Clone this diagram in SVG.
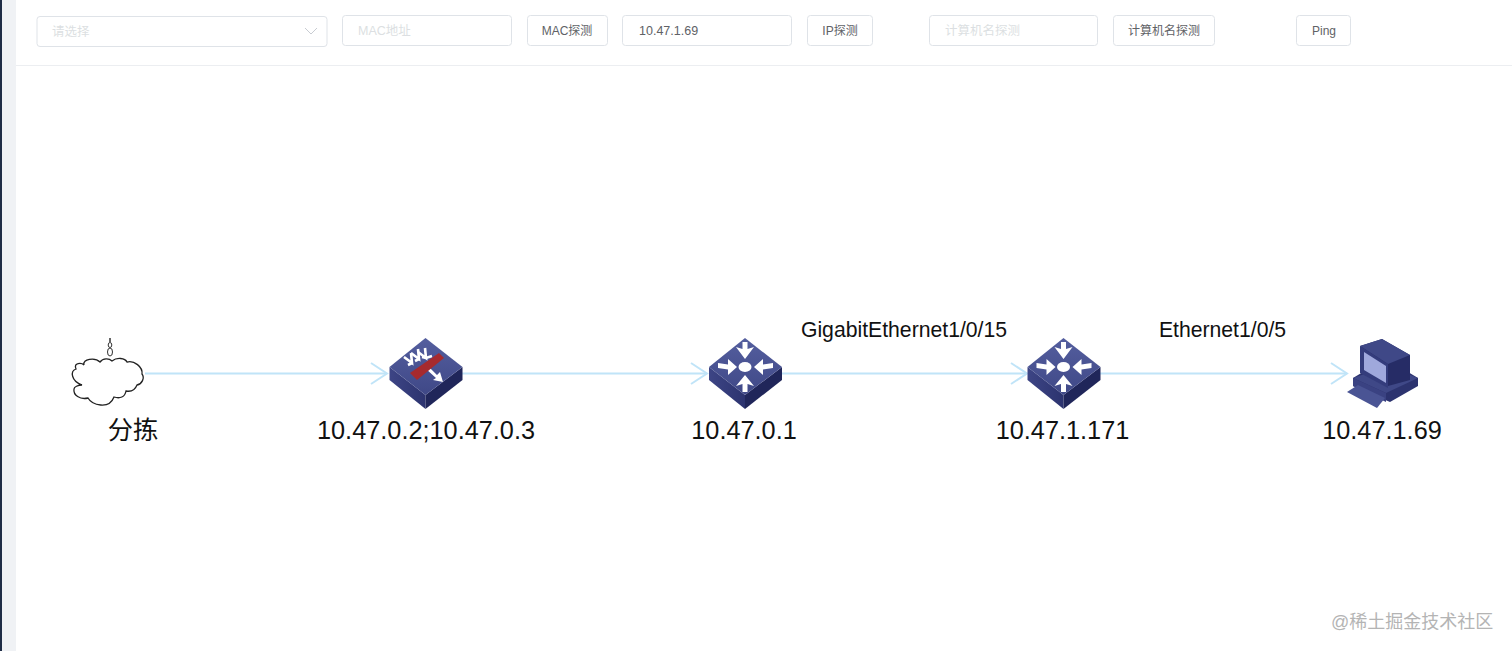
<svg xmlns="http://www.w3.org/2000/svg" width="1512" height="651" viewBox="0 0 1512 651">
<style>
text{font-family:"Liberation Sans","Noto Sans CJK SC",sans-serif}
.box{fill:#fff;stroke:#dfe3e8;stroke-width:1}
.ph{font-size:12.5px;fill:#dcdfe2}
.btn{font-size:12px;fill:#606266;text-anchor:middle}
.lbl{font-size:25.3px;fill:#111;text-anchor:middle}
.edge{font-size:21.2px;fill:#111;text-anchor:middle}
.wire{fill:none;stroke:#c0e4f8;stroke-width:2}
.w{fill:#fff}
</style>
<defs>
<marker id="a" viewBox="0 0 20 24" refX="18" refY="12" markerWidth="20" markerHeight="24" markerUnits="userSpaceOnUse" orient="auto"><path d="M2 1.500L18 12L2 22.500" fill="none" stroke="#c0e4f8" stroke-width="2"/></marker>
<linearGradient id="top" x1="0" y1="0" x2="0" y2="1"><stop offset="0" stop-color="#545e9e"/><stop offset="1" stop-color="#3f4887"/></linearGradient>
<linearGradient id="lf" x1="0" y1="0" x2="1" y2="0"><stop offset="0" stop-color="#3d4585"/><stop offset="1" stop-color="#2c336f"/></linearGradient>
<g id="base">
<path d="M-36 -6L0 22L0 36L-36 7Z" fill="url(#lf)"/>
<path d="M37 -6L0 22L0 36L37 7Z" fill="#20265a"/>
<path d="M-36 -6L0 -35L37 -6L0 22Z" fill="url(#top)"/>
</g>
<g id="switch">
<use href="#base"/>
<ellipse cx="0" cy="-6" rx="6.500" ry="5" class="w"/>
<path d="M-2.500 -31V-24L-9 -26L0 -14L9 -26L2.500 -24V-31Z" class="w"/>
<path d="M-2.500 19V11L-9 13L0 2L9 13L2.500 11V19Z" class="w"/>
<path d="M-27 -10L-17 -8.500L-17 -14L-8 -6L-17 2L-17 -3.500L-27 -5Z" class="w"/>
<path d="M28 -10L18 -8.500L18 -14L9 -6L18 2L18 -3.500L28 -5Z" class="w"/>
</g>
</defs>
<rect width="1512" height="651" fill="#fff"/>
<rect x="0" y="0" width="16" height="651" fill="#f0f2f5"/>
<rect x="0" y="0" width="2" height="651" fill="#1f2d46"/>
<path d="M16 65.500H1512" stroke="#eceef1" stroke-width="1"/>
<g id="toolbar">
<rect class="box" x="37" y="16.500" width="290" height="30" rx="3"/>
<text class="ph" x="52" y="36">请选择</text>
<path d="M305 28L311 34L317 28" fill="none" stroke="#c8ccd2" stroke-width="1"/>
<rect class="box" x="342.500" y="15.500" width="169" height="30" rx="3"/>
<text class="ph" x="358" y="35">MAC地址</text>
<rect class="box" x="527.500" y="15.500" width="80" height="30" rx="3"/>
<text class="btn" x="567" y="34.500">MAC探测</text>
<rect class="box" x="622.500" y="15.500" width="169" height="30" rx="3"/>
<text x="639" y="35" font-size="12.500" fill="#606266">10.47.1.69</text>
<rect class="box" x="807.500" y="15.500" width="65" height="30" rx="3"/>
<text class="btn" x="840" y="34.500">IP探测</text>
<rect class="box" x="929.500" y="15.500" width="168" height="30" rx="3"/>
<text class="ph" x="945" y="35">计算机名探测</text>
<rect class="box" x="1113.500" y="15.500" width="101" height="30" rx="3"/>
<text class="btn" x="1164" y="34.500">计算机名探测</text>
<rect class="box" x="1296.500" y="15.500" width="54" height="30" rx="3"/>
<text class="btn" x="1324" y="34.500">Ping</text>
</g>
<g id="connectors">
<path class="wire" d="M145 373.500H387" marker-end="url(#a)"/>
<path class="wire" d="M462 373.500H707" marker-end="url(#a)"/>
<path class="wire" d="M782 373.500H1027" marker-end="url(#a)"/>
<path class="wire" d="M1100 373.500H1347" marker-end="url(#a)"/>
<text class="edge" x="904" y="336.500">GigabitEthernet1/0/15</text>
<text class="edge" x="1222.500" y="336.500">Ethernet1/0/5</text>
</g>
<g id="node-cloud">
<path d="M82 385C71 381 70 371 76 369C73 362 82 363 84 365C82 359 95 357 100 362C103 358 109 358 112 361C117 357 125 358 127 362C134 360 143 367 142 374C145 378 142 384 137 385C135 390 131 392 126 391C125 397 120 399 114 397C109 410 92 405 88 398C80 400 73 395 74 389C74 387 78 385 82 385Z" fill="#fff" stroke="#222" stroke-width="1.300"/>
<path d="M110 338V342" stroke="#333" stroke-width="1.500"/>
<ellipse cx="110" cy="345" rx="1.800" ry="2.500" fill="none" stroke="#333"/>
<ellipse cx="110" cy="352" rx="2.500" ry="4" fill="none" stroke="#333"/>
<text class="lbl" x="133" y="439">分拣</text>
</g>
<g id="node-firewall">
<use href="#base" x="425.500" y="373"/>
<g fill="none" stroke="#fff" stroke-width="2.600">
<path d="M404 357L412 363L411 353"/>
<path d="M411 353L419 359L418 349"/>
<path d="M418 352L426 358L425 348"/>
<path d="M408 365L412 363M415 361L419 359M422 357L426 358L432 356"/>
</g>
<path d="M428 366L437 375L440 372L443 382L433 380L436 378L426 369Z" class="w"/>
<path d="M410 373L439 353L444 358L417 380Z" fill="#a62a2e"/>
<text class="lbl" x="426" y="439">10.47.0.2;10.47.0.3</text>
</g>
<g id="node-switch-1">
<use href="#switch" x="745" y="373"/>
<text class="lbl" x="744" y="439">10.47.0.1</text>
</g>
<g id="node-switch-2">
<use href="#switch" x="1063.500" y="373"/>
<text class="lbl" x="1062.500" y="439">10.47.1.171</text>
</g>
<g id="node-pc">
<path d="M1353 378L1363 372L1408 372L1418 378L1418 386L1390 402L1353 386Z" fill="#2c336f"/>
<path d="M1353 378L1386 393L1418 378L1388 366Z" fill="#3f4887"/>
<path d="M1353 378L1386 393V402L1353 386Z" fill="#3a4282"/>
<path d="M1347 392L1358 385L1385 398L1377 408Z" fill="#4a5494"/>
<path d="M1360 346L1382 339L1410 355V380L1388 386Z" fill="#262c66"/>
<path d="M1360 346L1382 339L1410 355L1388 364Z" fill="#3f4887"/>
<path d="M1360 346L1388 364V388L1360 373Z" fill="#343c7c"/>
<path d="M1364 352L1386 366V383L1364 370Z" fill="#9fa8dc"/>
<text class="lbl" x="1382" y="439">10.47.1.69</text>
</g>
<text id="watermark" x="1331" y="628" font-size="18px" fill="#b4b4b4">@稀土掘金技术社区</text>
</svg>
